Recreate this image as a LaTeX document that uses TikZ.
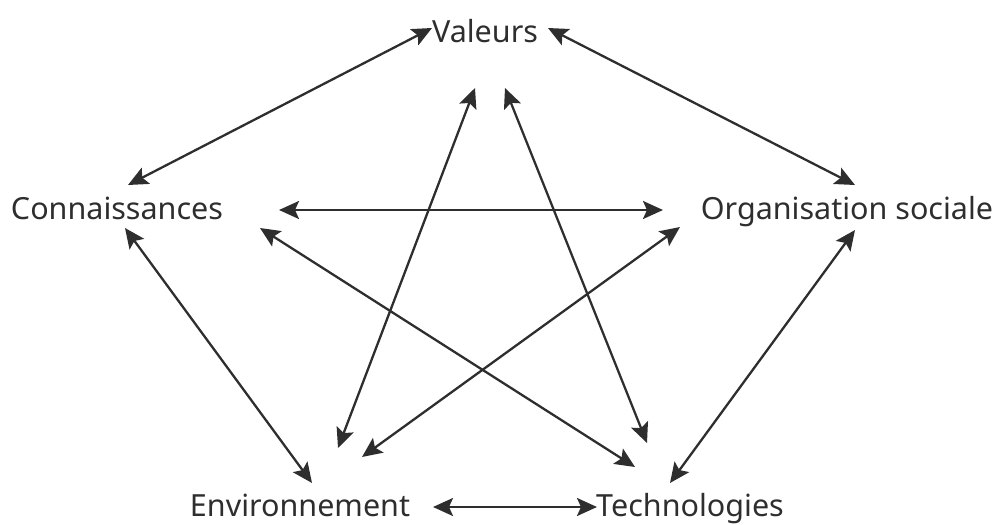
\documentclass[tikz,border=0pt]{standalone}
\usepackage{fontspec}
\setmainfont{Noto Sans}
\usetikzlibrary{arrows.meta}
\definecolor{ink}{HTML}{2E2E2E}
\tikzset{tip/.tip={Stealth[length=20pt,width=18pt,inset=4pt]}}
\begin{document}
\begin{tikzpicture}[x=1pt,y=-1pt,
  lbl/.style={text=ink,font=\fontsize{30.5}{36}\selectfont,inner sep=0pt,anchor=base},
  arr/.style={draw=ink,line width=2.3pt,tip-tip}]
	% Define the bounding box
	\useasboundingbox (0,0) rectangle (997,525);
	
	% Define the labels
	\node[lbl] (val) at (485,42) {Valeurs};
	\node[lbl] (con) at (117,219) {Connaissances};
	\node[lbl] (org) at (847,219) {Organisation sociale};
	\node[lbl] (env) at (300,516) {Environnement};
	\node[lbl] (tec) at (690,516) {Technologies};
	
	% Define the arrow ends
	\coordinate (vc) at (432,28);
	\coordinate (vo) at (548,28);
	\coordinate (ve) at (475,88);
	\coordinate (vt) at (505,88);
	\coordinate (cv) at (128,185);
	\coordinate (co) at (279,210);
	\coordinate (ct) at (260,228);
	\coordinate (ce) at (125,228);
	\coordinate (ov) at (855,185);
	\coordinate (oc) at (663,210);
	\coordinate (oe) at (680,227);
	\coordinate (ot) at (855,230);
	\coordinate (ec) at (312,483);
	\coordinate (ev) at (338,448);
	\coordinate (eo) at (362,457);
	\coordinate (et) at (433,507);
	\coordinate (tc) at (635,467);
	\coordinate (tv) at (647,443);
	\coordinate (to) at (670,483);
	\coordinate (te) at (597,507);
	
	% Draw the outer pentagon
	\draw[arr] (vc) -- (cv);
	\draw[arr] (vo) -- (ov);
	\draw[arr] (ce) -- (ec);
	\draw[arr] (ot) -- (to);
	\draw[arr] (et) -- (te);
	
	% Draw the inner star
	\draw[arr] (co) -- (oc);
	\draw[arr] (ve) -- (ev);
	\draw[arr] (vt) -- (tv);
	\draw[arr] (ct) -- (tc);
	\draw[arr] (oe) -- (eo);
\end{tikzpicture}
\end{document}
